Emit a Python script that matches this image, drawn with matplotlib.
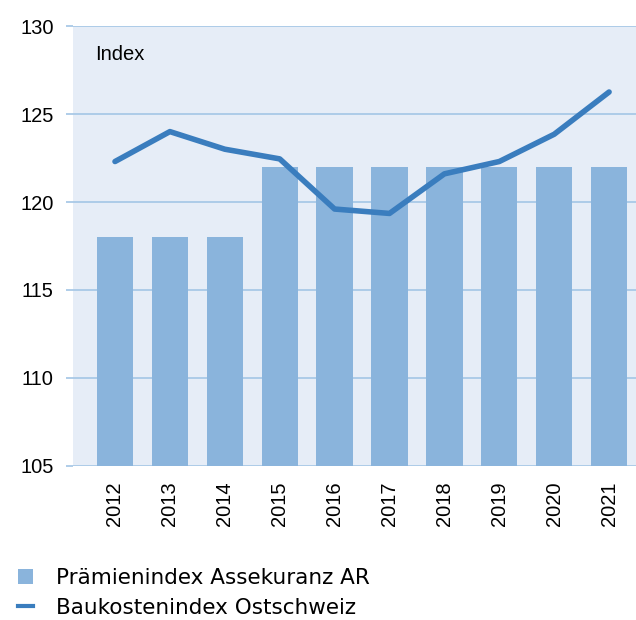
import matplotlib.pyplot as plt
from matplotlib.patches import Patch
from matplotlib.lines import Line2D
import numpy as np

# ── Data ───────────────────────────────────────────────────────────────────────
years = ['2012', '2013', '2014', '2015', '2016', '2017', '2018', '2019', '2020', '2021']
praemien = [118, 118, 118, 122, 122, 122, 122, 122, 122, 122]
baukosten = [122.3, 124.0, 123.0, 122.45, 119.6, 119.35, 121.6, 122.3, 123.85, 126.25]

BG = '#E6EDF7'
BAR = '#8AB4DC'
LINE = '#3A7DBE'
GRID = '#A9C9E7'

plt.rcParams['font.family'] = ['Liberation Sans', 'DejaVu Sans']

fig = plt.figure(figsize=(6.36, 6.2), dpi=100)
ax = fig.add_axes([73 / 636, 154 / 620, 563 / 636, 440 / 620])
ax.set_facecolor(BG)

x = np.arange(len(years))
ax.bar(x, [v - 105 for v in praemien], 0.66, bottom=105, color=BAR, zorder=2)
ax.plot(x, baukosten, color=LINE, linewidth=4, solid_capstyle='round',
        solid_joinstyle='round', zorder=3)

ax.set_ylim(105, 130)
ax.set_xlim(-0.765, 9.49)
ax.set_yticks([105, 110, 115, 120, 125, 130])
ax.yaxis.grid(True, color=GRID, linewidth=1.3, zorder=1)
ax.set_axisbelow(True)
for s in ax.spines.values():
    s.set_visible(False)
ax.tick_params(axis='y', length=5, color=GRID, width=1.3, labelsize=14.5, pad=9)
ax.tick_params(axis='x', length=0, labelsize=14.5, pad=11)
ax.set_xticks(x)
ax.set_xticklabels(years, rotation=90)

ax.text(22 / 563, 1 - 28 / 440, 'Index', transform=ax.transAxes,
        fontsize=14.5, va='center', ha='left')

handles = [Patch(facecolor=BAR, edgecolor='none'),
           Line2D([0], [0], color=LINE, linewidth=3)]
fig.legend(handles, ['Prämienindex Assekuranz AR', 'Baukostenindex Ostschweiz'],
           loc='upper left', bbox_to_anchor=(18 / 636, 1 - 568 / 620),
           frameon=False, borderpad=0, borderaxespad=0,
           handlelength=0.7, handleheight=0.7,
           handletextpad=1.07, labelspacing=0.45,
           prop={'family': 'DejaVu Sans', 'size': 15.5})

fig.savefig('out.png', dpi=100)
